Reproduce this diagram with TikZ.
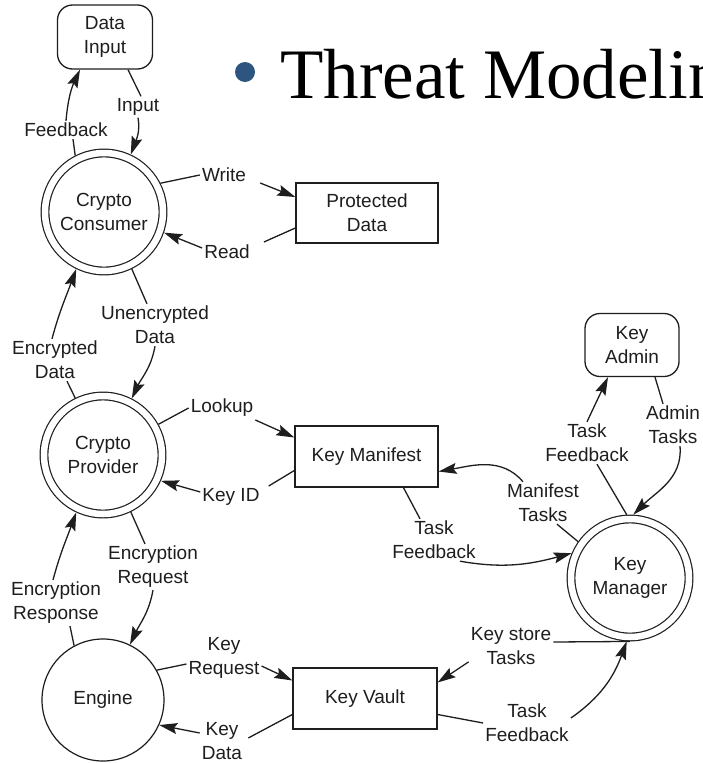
\documentclass[tikz,border=0pt]{standalone}
\usepackage{fontspec}
\setmainfont{Liberation Sans}
\newfontfamily\titlefont{Liberation Serif}
\usetikzlibrary{arrows.meta}
\definecolor{ink}{RGB}{30,30,30}
\definecolor{bulletblue}{RGB}{44,85,128}
\tikzset{
  proc/.style={circle, draw=ink, line width=1.2pt, double=white, double distance=6.5pt,
    minimum size=118pt, inner sep=0pt, outer sep=4.45pt, align=center,
    font=\fontsize{19}{24}\selectfont, text=ink},
  single/.style={circle, draw=ink, line width=1.2pt, minimum size=122pt, inner sep=0pt,
    outer sep=0.6pt, align=center, font=\fontsize{19}{24}\selectfont, text=ink},
  store/.style={rectangle, draw=ink, line width=1.3pt, inner sep=0pt, align=center,
    font=\fontsize{19}{24}\selectfont, text=ink},
  term/.style={rectangle, draw=ink, line width=1.3pt, rounded corners=15pt, inner sep=0pt,
    align=center, minimum width=95pt, minimum height=64pt,
    font=\fontsize{19}{24}\selectfont, text=ink},
  lbl/.style={align=center, inner sep=2pt, font=\fontsize{19}{24}\selectfont, text=ink},
  ln/.style={draw=ink, line width=1.3pt},
  arr/.style={draw=ink, line width=1.3pt, -{Stealth[length=18pt,width=11pt,inset=3pt]}},
}
\begin{document}
\begin{tikzpicture}[x=1pt,y=1pt]
\clip (0,0) rectangle (702,-763);
\fill[white] (0,0) rectangle (702,-763);

% title
\fill[bulletblue] (245,-72) circle (10pt);
\node[anchor=base west, inner sep=0pt, font=\titlefont\fontsize{71}{78}\selectfont] (title) at (280,-98) {Threat Modeling};

% main nodes
\node[term] (di) at (105,-37) {Data\\Input};
\node[proc] (cc) at (104,-212) {Crypto\\Consumer};
\node[store, minimum width=142pt, minimum height=60pt] (pd) at (367,-213) {Protected\\Data};
\node[proc] (cp) at (103,-455) {Crypto\\Provider};
\node[store, minimum width=143pt, minimum height=61pt] (km) at (366.5,-456.5) {Key Manifest};
\node[single] (en) at (103,-700) {Engine};
\node[store, minimum width=144pt, minimum height=61pt] (kv) at (365,-698.5) {Key Vault};
\node[proc] (kmg) at (630,-578) {Key\\Manager};
\node[term, minimum width=94pt, minimum height=63pt] (ka) at (632,-345) {Key\\Admin};

% labels
\node[lbl] (fb) at (66,-130) {Feedback};
\node[lbl] (inp) at (138,-107) {Input};
\node[lbl] (wr) at (224,-175) {Write};
\node[lbl] (rd) at (227,-252) {Read};
\node[lbl] (un) at (155,-325) {Unencrypted\\Data};
\node[lbl] (ed) at (55,-360) {Encrypted\\Data};
\node[lbl] (lk) at (222,-408) {Lookup};
\node[lbl] (kid) at (231,-497) {Key ID};
\node[lbl] (erq) at (153,-567) {Encryption\\Request};
\node[lbl] (ers) at (56,-603) {Encryption\\Response};
\node[lbl] (krq) at (224,-658) {Key\\Request};
\node[lbl] (kd) at (222,-741) {Key\\Data};
\node[lbl] (tfa) at (434,-540) {Task\\Feedback};
\node[lbl] (mt) at (543,-503) {Manifest\\Tasks};
\node[lbl] (tfb) at (587,-443) {Task\\Feedback};
\node[lbl] (adm) at (673,-425) {Admin\\Tasks};
\node[lbl] (ks) at (511,-646) {Key store\\Tasks};
\node[lbl] (tfc) at (527,-723) {Task\\Feedback};

% connectors
\draw[ln] (cc.117) -- ([xshift=7pt]fb.south);
\draw[arr] (fb.north) to[out=85,in=-115] ([xshift=-25pt]di.south);

\draw[ln] ([xshift=23pt]di.south) -- ([xshift=3pt]inp.north);
\draw[arr] (inp.south) to[out=-80,in=70] (cc.65);

\draw[ln] (cc.27) -- (wr.west);
\draw[arr] ([shift={(12pt,-8pt)}]wr.east) -- ([yshift=16pt]pd.west);

\draw[ln] ([yshift=-15pt]pd.west) -- ([shift={(12pt,10pt)}]rd.east);
\draw[arr] ([yshift=4pt]rd.west) -- (cc.-19);

\draw[ln] (cp.116) -- ([xshift=12pt]ed.south);
\draw[arr] ([xshift=-3pt]ed.north) to[out=75,in=-110] (cc.-116);

\draw[ln] (cc.-64) -- ([xshift=-8pt]un.north);
\draw[arr] (un.south) to[out=-100,in=65] (cp.63);

\draw[ln] (cp.29) -- (lk.west);
\draw[arr] ([yshift=-12pt]lk.east) -- ([yshift=19pt]km.west);

\draw[ln] ([yshift=-14pt]km.west) -- ([shift={(7pt,11pt)}]kid.east);
\draw[arr] ([yshift=5pt]kid.west) -- (cp.-24);

\draw[ln] (en.118) -- ([xshift=14pt]ers.south);
\draw[arr] ([xshift=-3pt]ers.north) to[out=75,in=-110] (cp.-115);

\draw[ln] (cp.-64) -- ([xshift=-8pt]erq.north);
\draw[arr] (erq.south) to[out=-100,in=65] (en.64);

\draw[ln] (en.29) -- ([yshift=-6pt]krq.west);
\draw[arr] ([yshift=-8pt]krq.east) -- ([yshift=18pt]kv.west);

\draw[ln] ([yshift=-16pt]kv.west) -- ([shift={(4pt,3pt)}]kd.east);
\draw[arr] ([yshift=8pt]kd.west) -- (en.-24);

\draw[ln] ([xshift=37pt]km.south) -- ([xshift=-14pt]tfa.north);
\draw[arr] ([xshift=26pt]tfa.south) to[out=-10,in=195] (kmg.157);

\draw[ln] (kmg.145) -- ([xshift=14pt]mt.south);
\draw[arr] ([xshift=-20pt]mt.north) to[out=130,in=10] ([yshift=-15pt]km.east);

\draw[ln] (kmg.93) -- ([xshift=10pt]tfb.south);
\draw[arr] (tfb.north) to[out=65,in=-115] ([xshift=-24pt]ka.south);

\draw[ln] ([xshift=23pt]ka.south) -- ([xshift=-10pt]adm.north);
\draw[arr] ([xshift=7pt]adm.south) to[out=-85,in=45] (kmg.87);

\draw[ln] (kmg.south) -- ([yshift=4pt]ks.east);
\draw[arr] ([yshift=5pt]ks.south west) -- ([yshift=16pt]kv.east);

\draw[ln] ([yshift=-16pt]kv.east) -- (tfc.west);
\draw[arr] ([yshift=5pt]tfc.east) to[out=35,in=-110] (kmg.-93);
\end{tikzpicture}
\end{document}
